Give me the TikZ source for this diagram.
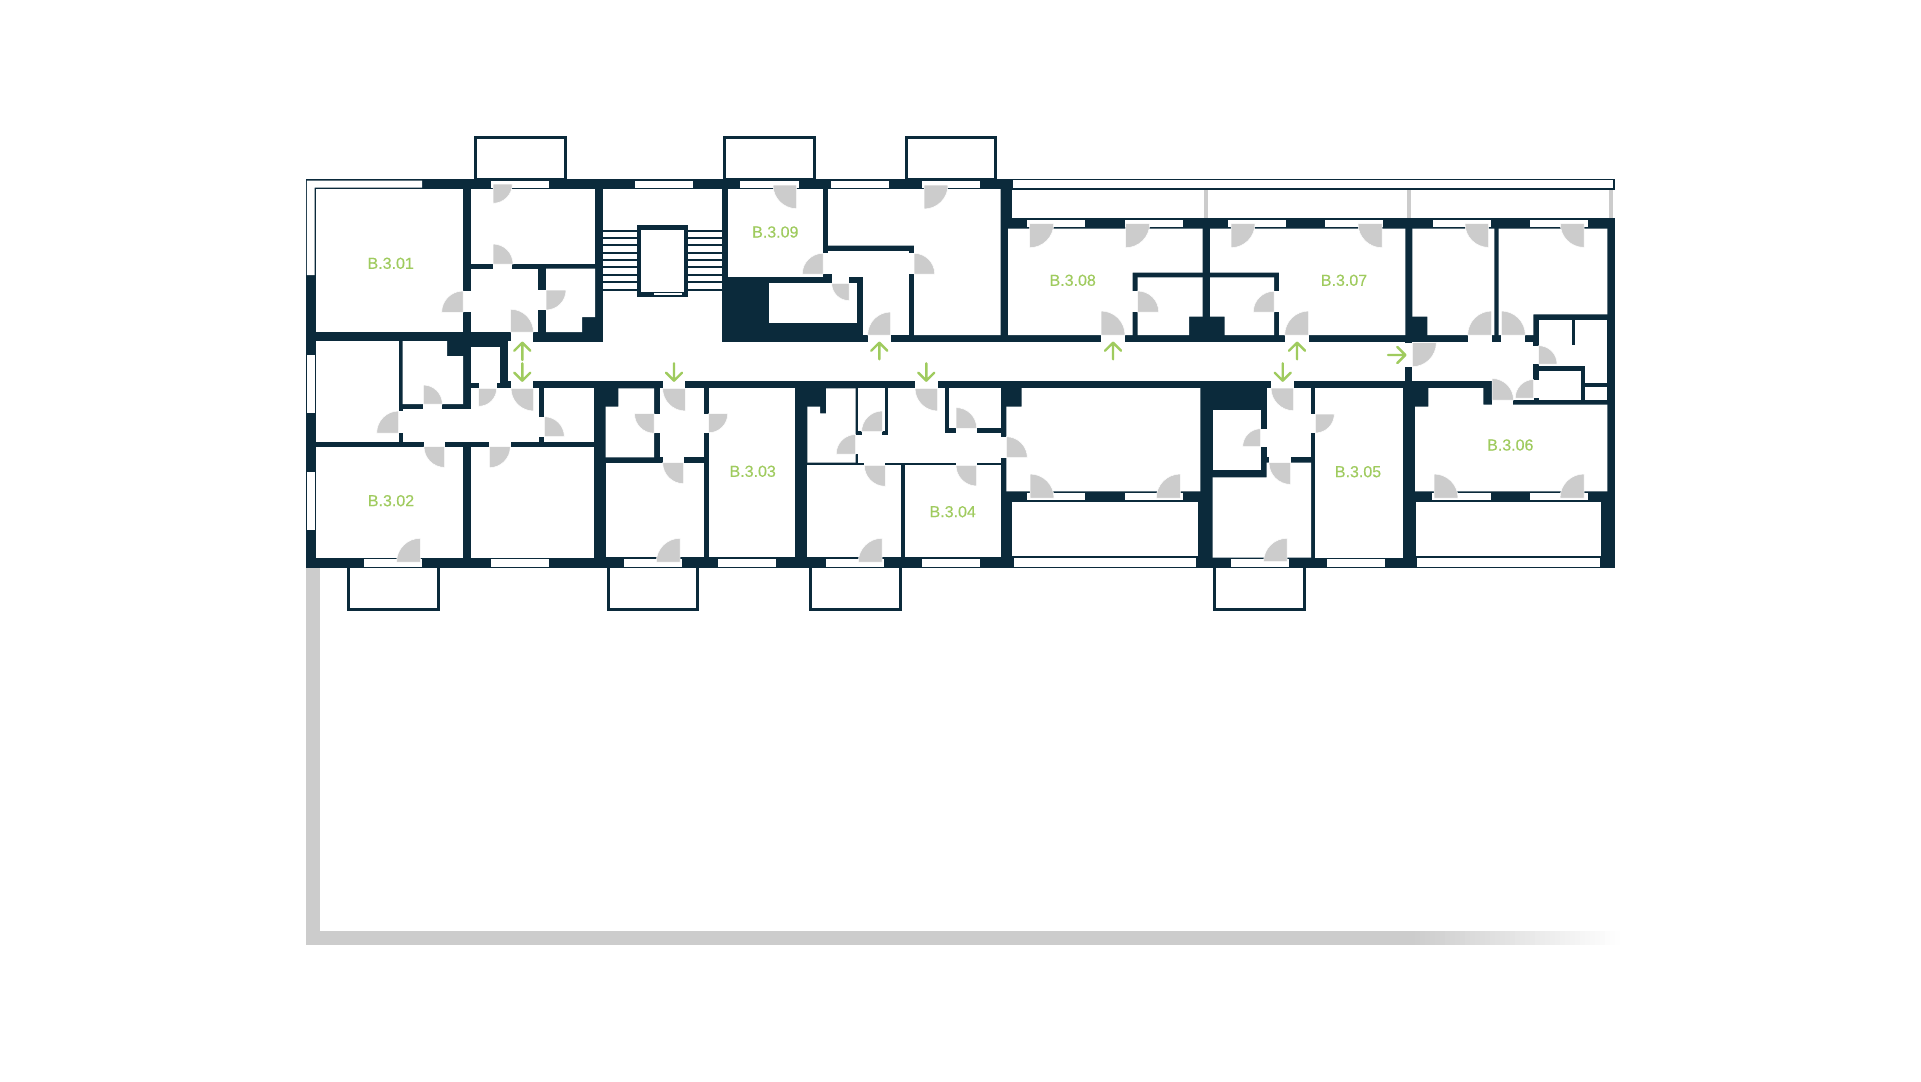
\documentclass[tikz,border=0pt]{standalone}
\usepackage{fontspec}
\setmainfont{Liberation Sans}
\newfontfamily\labfont[FakeBold=0.25]{Liberation Sans}
\definecolor{wallc}{HTML}{0B2A3B}
\definecolor{doorc}{HTML}{CCCCCC}
\definecolor{greenc}{HTML}{9FCB5E}
\newcommand{\doorq}[5]{\fill[doorfill] (#1,#2) -- ({#1+#3*#4},#2) .. controls ({#1+#3*#4},{#2+0.5523*#3*#5}) and ({#1+0.5523*#3*#4},{#2+#3*#5}) .. (#1,{#2+#3*#5}) -- cycle;}
\newcommand{\ww}[4]{\fill[white] (#1,#2) rectangle (#3,#4);}
\newcommand{\gup}[3]{\draw[garrow] (#1,#3) -- (#1,#2) (#1-8,#2+8) -- (#1,#2) -- (#1+8,#2+8);}
\newcommand{\gdown}[3]{\draw[garrow] (#1,#2) -- (#1,#3) (#1-8,#3-8) -- (#1,#3) -- (#1+8,#3-8);}
\newcommand{\balc}[4]{\draw[balcony] (#1+1.5,#2) rectangle (#3-1.5,#4);}
\tikzset{
 doorfill/.style={fill=doorc,draw=white,line width=0.5pt},
 garrow/.style={draw=greenc,line width=2.4pt,line cap=round,line join=round},
 balcony/.style={draw=wallc,line width=3.2pt,fill=white},
 roomlabel/.style={text=greenc,font=\labfont\fontsize{16}{18}\selectfont,inner sep=0pt},
 stairline/.style={draw=wallc,line width=1.8pt},
 divider/.style={fill=doorc}
}
\begin{document}
\begin{tikzpicture}[x=1pt,y=-1pt]
\useasboundingbox (0,0) rectangle (1921,1081);
\fill[white] (0,0) rectangle (1921,1081);
% grey L
\fill[doorc] (306,568) rectangle (319.5,945);
\fill[doorc] (306,931) rectangle (1410,945);
\foreach \ii in {0,...,41}{
  \pgfmathsetmacro{\pc}{100-\ii*2.4}
  \pgfmathsetmacro{\xa}{1410+\ii*5}
  \pgfmathsetmacro{\xb}{1410+\ii*5+5.3}
  \fill[doorc!\pc!white] (\xa,931) rectangle (\xb,945);
}
% balconies
\balc{474}{137.2}{566.7}{180}
\balc{723}{137.2}{816}{180}
\balc{904.7}{137.2}{997}{180}
\balc{347}{566}{439.7}{609.5}
\balc{607}{566}{699}{609.5}
\balc{809}{566}{901.7}{609.5}
\balc{1213}{566}{1306}{609.5}
% building mass
\fill[wallc] (306,178.7) rectangle (1615,568.3);
% terrace strip north-east
\ww{1012}{190}{1616}{218}
\ww{1013.3}{180}{1613}{188.3}
\fill[divider] (1204.3,190) rectangle (1208.3,218);
\fill[divider] (1407,190) rectangle (1411,218);
\fill[divider] (1609,190) rectangle (1613,218);
% L-shaped window
\fill[white] (306.8,180.5) -- (422,180.5) -- (422,187.5) -- (314.6,187.5) -- (314.6,275) -- (306.8,275) -- cycle;
% rooms west north
\ww{316}{189}{463}{332}
\ww{471}{189}{595}{264}
\ww{471}{268.5}{538.3}{332}
\fill[white] (546,268.5) -- (595,268.5) -- (595,317) -- (582,317) -- (582,332) -- (546,332) -- cycle;
\ww{493}{263}{512.3}{269}
\ww{462}{291}{472}{312.3}
\ww{538}{290}{546.5}{310}
\ww{510.7}{331}{533.3}{342}
% stair hall and corridor
\ww{603}{189}{722.3}{341.5}
\ww{533.3}{341.5}{1405.3}{380.7}
% west south
\ww{507.7}{341}{533.3}{381}
\ww{511}{380}{533.3}{388.5}
\ww{316}{341}{398.7}{442}
\fill[white] (402.7,341) -- (447,341) -- (447,356) -- (463,356) -- (463,404) -- (402.7,404) -- cycle;
\ww{423.3}{403}{442}{410}
\ww{398}{410.7}{403}{433}
\ww{471}{346.7}{499.7}{383}
\ww{478.7}{382}{496.7}{389}
\ww{402.7}{409}{538.7}{442}
\ww{471}{388.3}{538.7}{410}
\ww{538}{416.7}{545}{436.7}
\ww{544.3}{388.3}{593.7}{442}
\ww{424}{441}{444.7}{447.5}
\ww{489.3}{441}{510.7}{447.5}
\ww{316}{446.7}{463}{557.7}
\ww{471}{446.7}{593.7}{557.7}
% 03 group
\fill[white] (618.3,388.3) -- (654,388.3) -- (654,457.3) -- (605.7,457.3) -- (605.7,406.7) -- (618.3,406.7) -- cycle;
\ww{660}{388.3}{704.3}{457.3}
\ww{662.7}{380}{685.3}{389}
\ww{653.5}{413.7}{660.5}{432.7}
\ww{704}{413.7}{709}{432.7}
\ww{662.7}{457}{683.7}{463}
\ww{605.7}{462.7}{704.3}{557.3}
\ww{708.7}{388.3}{795}{557.3}
% 04 group
\fill[white] (826,388.3) -- (855.7,388.3) -- (855.7,462.7) -- (807.3,462.7) -- (807.3,406.7) -- (820,406.7) -- (820,413.3) -- (826,413.3) -- cycle;
\ww{858.3}{388.3}{885.3}{431}
\ww{861.7}{430.5}{882.3}{435.5}
\ww{858.3}{435}{1001}{462.7}
\ww{888}{388.3}{945}{435.5}
\ww{945}{433.3}{1001}{436}
\ww{915.3}{380}{937.7}{389}
\ww{949.3}{388.3}{1000.7}{428.3}
\ww{956}{428}{976.7}{433.6}
\ww{855.2}{435}{858.8}{454}
\ww{1000.5}{436.7}{1007}{457.7}
\ww{864.3}{462}{885.3}{466}
\ww{956}{462}{976.7}{466}
\ww{807.3}{465.3}{901}{557.3}
\ww{905.3}{465.3}{1000.7}{557.3}
% mid room
\fill[white] (1021.7,388) -- (1200.3,388) -- (1200.3,491.3) -- (1006.3,491.3) -- (1006.3,406.7) -- (1021.7,406.7) -- cycle;
\ww{1012.3}{502}{1197.7}{556.3}
\ww{1013.7}{558.3}{1196}{566.7}
% 05 group
\ww{1212.7}{410}{1260.7}{470}
\ww{1266.7}{388}{1311}{457.3}
\ww{1271}{380}{1293.7}{389}
\ww{1260.2}{428.7}{1267.2}{446.7}
\ww{1310.5}{414}{1315.8}{433}
\ww{1269}{457}{1290.7}{463}
\fill[white] (1266.7,462.7) -- (1311,462.7) -- (1311,557.7) -- (1212.7,557.7) -- (1212.7,477.3) -- (1266.7,477.3) -- cycle;
\ww{1315.3}{388}{1402.7}{557.7}
% 06
\fill[white] (1428.3,388) -- (1483.3,388) -- (1483.3,404.7) -- (1607.3,404.7) -- (1607.3,491.3) -- (1415,491.3) -- (1415,406.7) -- (1428.3,406.7) -- cycle;
\ww{1416}{502}{1601.3}{556.3}
\ww{1417.3}{558.3}{1599.7}{566.7}
\ww{1492}{380}{1513.3}{405}
% north: 09 and neighbours
\ww{728}{189}{823}{276.7}
\ww{769}{283}{857}{322.7}
\ww{831.7}{276}{849}{283.5}
\ww{828}{250.7}{909}{274}
\ww{831.7}{274}{909}{276.7}
\ww{863.3}{276.7}{909}{335}
\ww{867.7}{334.5}{890.7}{342}
\ww{822.5}{253}{828.5}{274}
\ww{908.5}{253.3}{914.5}{274}
\fill[white] (828,189) -- (1000.7,189) -- (1000.7,335) -- (914,335) -- (914,245.7) -- (828,245.7) -- cycle;
% 08 and 07
\fill[white] (1008,228.7) -- (1202.7,228.7) -- (1202.7,272.7) -- (1132.7,272.7) -- (1132.7,335) -- (1008,335) -- cycle;
\fill[white] (1137.7,277.3) -- (1202.7,277.3) -- (1202.7,316.7) -- (1189,316.7) -- (1189,335) -- (1137.7,335) -- cycle;
\fill[white] (1210,277.3) -- (1274,277.3) -- (1274,335) -- (1224.7,335) -- (1224.7,316.7) -- (1210,316.7) -- cycle;
\fill[white] (1210,228.7) -- (1405.3,228.7) -- (1405.3,335) -- (1279,335) -- (1279,272.7) -- (1210,272.7) -- cycle;
\ww{1132.2}{291}{1138.2}{312}
\ww{1273.5}{291}{1279.5}{312}
\ww{1101}{334.5}{1124.7}{342}
\ww{1285}{334.5}{1308.7}{342}
% north-east
\ww{1405}{342.7}{1412.8}{366.7}
\ww{1412.3}{341.7}{1533.3}{380.7}
\ww{1483.3}{341.7}{1489.5}{381}
\ww{1492}{380}{1533.7}{399.6}
\fill[white] (1427.3,228.7) -- (1494.3,228.7) -- (1494.3,335) -- (1427.3,335) -- (1427.3,316.7) -- (1412.3,316.7) -- (1412.3,228.7) -- cycle;
\fill[white] (1498.7,228.7) -- (1607.3,228.7) -- (1607.3,314.3) -- (1533.3,314.3) -- (1533.3,335) -- (1498.7,335) -- cycle;
\ww{1468.3}{334.5}{1491.7}{342}
\ww{1501.3}{334.5}{1525}{342}
\ww{1538.7}{319.7}{1607.3}{365.7}
\ww{1585.3}{365}{1607.3}{383.3}
\ww{1585.3}{387.3}{1607.3}{400}
\ww{1538.7}{371}{1581}{400}
\fill[wallc] (1572,319.7) rectangle (1574.7,344.7);
\ww{1533}{345.7}{1539}{364}
\ww{1533.3}{380}{1539}{398}
% windows north
\ww{491}{180.5}{549}{187.5}
\ww{635}{180.5}{693}{187.5}
\ww{740}{180.5}{799}{187.5}
\ww{831}{180.5}{889}{187.5}
\ww{922}{180.5}{980}{187.5}
\ww{1027}{220}{1085}{227}
\ww{1125}{220}{1183}{227}
\ww{1228}{220}{1286}{227}
\ww{1325}{220}{1383}{227}
\ww{1432.7}{220}{1490.7}{227}
\ww{1529.7}{220}{1587.7}{227}
% windows west
\ww{306.7}{355}{315}{413.3}
\ww{306.7}{471.7}{315}{530}
% windows south
\ww{364}{559.3}{422.3}{566.7}
\ww{491}{559.3}{549}{566.7}
\ww{624}{559.3}{682}{566.7}
\ww{718.3}{559.3}{776.3}{566.7}
\ww{826.3}{559.3}{884.3}{566.7}
\ww{922.3}{559.3}{980}{566.7}
\ww{1230.7}{559.3}{1288.7}{566.7}
\ww{1327}{559.3}{1385}{566.7}
% windows inner
\ww{1027.3}{492.7}{1085.3}{500.3}
\ww{1124.7}{492.7}{1183}{500.3}
\ww{1432.3}{492.7}{1490.7}{500.3}
\ww{1529.7}{492.7}{1587.7}{500.3}
% stairs
\foreach \yy in {230.7,238,245.3,252.7,260,267.3,274.7,282.3,290}{
  \draw[stairline] (603,\yy) -- (637,\yy);
  \draw[stairline] (688,\yy) -- (722,\yy);
}
\fill[wallc] (637,225) rectangle (688,297);
\ww{641}{230}{684}{292}
\ww{654}{293}{682}{295}
% doors
\doorq{493}{184}{19.3}{1}{1}
\doorq{493}{264}{20}{1}{-1}
\doorq{463}{312.3}{21.3}{-1}{-1}
\doorq{546}{290}{20}{1}{1}
\doorq{510.7}{332}{22.7}{1}{-1}
\doorq{533.7}{388.3}{22.7}{-1}{1}
\doorq{423.3}{404}{19}{1}{-1}
\doorq{398.7}{433}{22}{-1}{-1}
\doorq{478.7}{388.3}{18}{1}{1}
\doorq{544.3}{436.7}{20}{1}{-1}
\doorq{444.7}{446.7}{20.7}{-1}{1}
\doorq{489.3}{446.7}{21}{1}{1}
\doorq{420.3}{562}{23.7}{-1}{-1}
\doorq{685.3}{388.3}{22.7}{-1}{1}
\doorq{654}{413.7}{19.5}{-1}{1}
\doorq{708.7}{413.7}{19}{1}{1}
\doorq{683.7}{462.7}{21}{-1}{1}
\doorq{680}{562}{23.7}{-1}{-1}
\doorq{855.7}{454}{19.5}{-1}{-1}
\doorq{882.3}{431.7}{20.7}{-1}{-1}
\doorq{937.7}{388.3}{22.7}{-1}{1}
\doorq{956}{428.3}{20.7}{1}{-1}
\doorq{1006.3}{457.7}{21}{1}{-1}
\doorq{885.3}{465.3}{21}{-1}{1}
\doorq{976.7}{465.3}{20.7}{-1}{1}
\doorq{882}{562}{23.7}{-1}{-1}
\doorq{796.7}{185}{23.7}{-1}{1}
\doorq{924}{185}{24}{1}{1}
\doorq{823}{274}{20.7}{-1}{-1}
\doorq{914}{274}{20.7}{1}{-1}
\doorq{849}{283.3}{17.3}{-1}{1}
\doorq{890.7}{335}{23}{-1}{-1}
\doorq{1029.7}{223.7}{24}{1}{1}
\doorq{1125.7}{223.7}{24}{1}{1}
\doorq{1231}{223.7}{24}{1}{1}
\doorq{1382}{223.7}{24}{-1}{1}
\doorq{1137.7}{312}{21}{1}{-1}
\doorq{1274}{312}{20.7}{-1}{-1}
\doorq{1101}{335}{24}{1}{-1}
\doorq{1308.7}{335}{24}{-1}{-1}
\doorq{1488.7}{223.7}{23.7}{-1}{1}
\doorq{1584}{223.7}{23.7}{-1}{1}
\doorq{1491.7}{335}{24}{-1}{-1}
\doorq{1501.3}{335}{24}{1}{-1}
\doorq{1412.3}{342.7}{24}{1}{1}
\doorq{1538.7}{364}{18.3}{1}{-1}
\doorq{1492}{400}{21.5}{1}{-1}
\doorq{1533.7}{398}{18.5}{-1}{-1}
\doorq{1030}{498}{24}{1}{-1}
\doorq{1180.3}{498}{24}{-1}{-1}
\doorq{1434}{498}{24}{1}{-1}
\doorq{1584}{498}{24}{-1}{-1}
\doorq{1293.7}{388}{22.7}{-1}{1}
\doorq{1260.7}{446.7}{18}{-1}{-1}
\doorq{1315.3}{414}{19}{1}{1}
\doorq{1290.7}{462.7}{21.7}{-1}{1}
\doorq{1287}{561.7}{23.4}{-1}{-1}
% green arrows
\gup{522.3}{342.7}{360}
\gdown{522.3}{363.3}{380.7}
\gdown{674}{363.3}{380.7}
\gup{879.3}{342.7}{359.3}
\gdown{926.3}{363.3}{380.7}
\gup{1113}{342.7}{359.3}
\gup{1297}{342.7}{359.3}
\gdown{1282.7}{363.3}{380.7}
\draw[garrow] (1388,355) -- (1405.3,355) (1397.3,347) -- (1405.3,355) -- (1397.3,363);
% labels
\node[roomlabel] (r01) at (390.7,263.3) {B.3.01};
\node[roomlabel] (r02) at (391,500.7) {B.3.02};
\node[roomlabel] (r03) at (752.7,471.3) {B.3.03};
\node[roomlabel] (r04) at (952.7,511.7) {B.3.04};
\node[roomlabel] (r05) at (1358,471.7) {B.3.05};
\node[roomlabel] (r06) at (1510.3,445) {B.3.06};
\node[roomlabel] (r07) at (1344,280.3) {B.3.07};
\node[roomlabel] (r08) at (1072.7,280.3) {B.3.08};
\node[roomlabel] (r09) at (775.3,232) {B.3.09};
\end{tikzpicture}
\end{document}
